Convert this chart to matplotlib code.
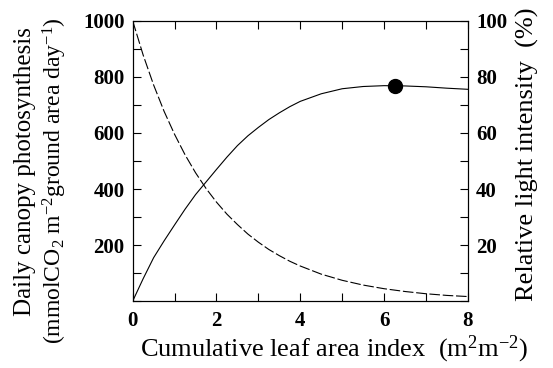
import matplotlib
matplotlib.use("Agg")
import matplotlib.pyplot as plt
from matplotlib.ticker import MultipleLocator, FixedLocator

plt.rcParams["font.family"] = "Liberation Serif"
plt.rcParams["mathtext.fontset"] = "custom"
plt.rcParams["mathtext.rm"] = "Liberation Serif"
plt.rcParams["mathtext.it"] = "Liberation Serif:italic"
plt.rcParams["mathtext.bf"] = "Liberation Serif:bold"

# cumulative leaf area index (m2 m-2)
lai = [0, 0.25, 0.5, 0.75, 1, 1.25, 1.5, 1.75, 2, 2.25, 2.5, 2.75, 3, 3.25, 3.5, 3.75,
       4, 4.5, 5, 5.5, 6, 6.5, 7, 7.5, 8]
# daily canopy photosynthesis (mmol CO2 m-2 ground area day-1)
photosynthesis = [0, 80, 155, 215, 272, 328, 380, 425, 470, 514, 555, 590, 620, 648, 672, 694,
                  713, 740, 758, 766, 769, 768, 765, 760, 756]
# relative light intensity (%)
light = [100, 87.8, 77.1, 67.7, 59.5, 52.2, 45.8, 40.2, 35.3, 31.0, 27.3, 23.9, 21.0, 18.4,
         16.2, 14.2, 12.5, 9.6, 7.4, 5.7, 4.4, 3.4, 2.6, 2.0, 1.6]
# optimum point
opt_lai = [6.25]
opt_ps = [768]

fig = plt.figure(figsize=(5.53, 3.68), dpi=100)
ax = fig.add_axes([0.240, 0.182, 0.606, 0.761])
ax2 = ax.twinx()

ax.plot(lai, photosynthesis, color="black", lw=0.8)
ax.plot(opt_lai, opt_ps, "o", color="black", ms=10)
ax2.plot(lai, light, color="black", lw=0.8, linestyle=(0, (9.5, 2.5)))

ax.set_xlim(0, 8)
ax.set_ylim(0, 1000)
ax2.set_ylim(0, 100)

ax.xaxis.set_major_locator(FixedLocator([0, 2, 4, 6, 8]))
ax.xaxis.set_minor_locator(MultipleLocator(1))
ax.yaxis.set_major_locator(FixedLocator([200, 400, 600, 800, 1000]))
ax.yaxis.set_minor_locator(MultipleLocator(100))
ax2.yaxis.set_major_locator(FixedLocator([20, 40, 60, 80, 100]))
ax2.yaxis.set_minor_locator(MultipleLocator(10))

for a in (ax, ax2):
    a.tick_params(which="both", direction="in", length=6, width=0.8, labelsize=15, pad=6)
    for lab in a.get_xticklabels() + a.get_yticklabels():
        lab.set_fontweight("bold")
    for s in a.spines.values():
        s.set_linewidth(0.8)
ax.tick_params(which="both", top=True)
ax.tick_params(axis="x", pad=7)

# axis titles placed as figure text to follow the original layout
fig.text(0.604, 0.052, r"Cumulative leaf area index  (m$^2$m$^{-2}$)", fontsize=19,
         ha="center", va="center")
fig.text(0.045, 0.535, "Daily canopy photosynthesis", fontsize=18,
         rotation=90, ha="center", va="center")
fig.text(0.100, 0.51, r"(mmolCO$_2$ m$^{-2}$ground area day$^{-1}$)", fontsize=17,
         rotation=90, ha="center", va="center")
fig.text(0.953, 0.580, "Relative light intensity  (%)", fontsize=19,
         rotation=90, ha="center", va="center")

fig.savefig("out.png", dpi=100)
